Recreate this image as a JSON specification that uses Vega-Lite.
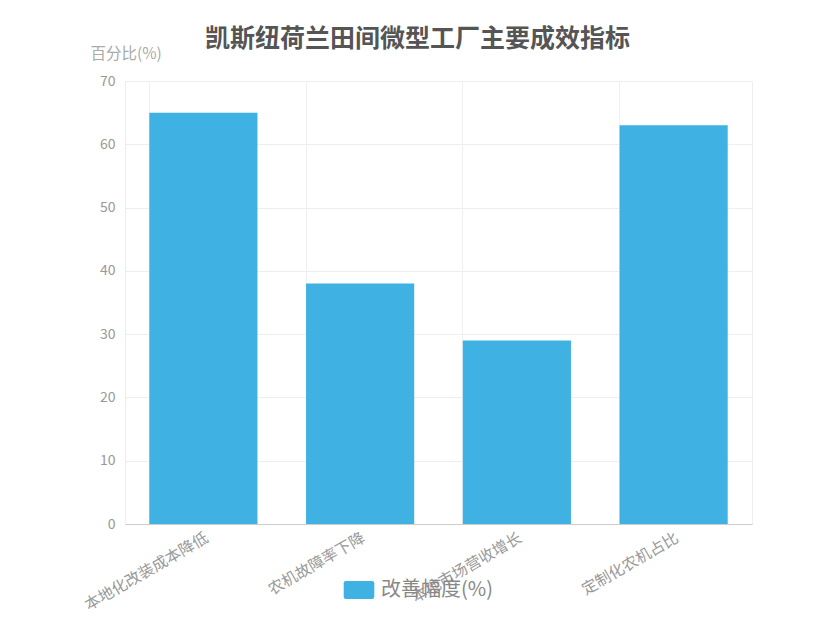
{
  "$schema": "https://vega.github.io/schema/vega-lite/v6.json",
  "autosize": "none",
  "width": 627,
  "height": 443,
  "padding": {"left": 125, "top": 81, "right": 83, "bottom": 101},
  "background": "#ffffff",
  "config": {
    "font": "Noto Sans CJK SC",
    "view": {"stroke": "#eeeeee", "strokeWidth": 1}
  },
  "title": {
    "text": "凯斯纽荷兰田间微型工厂主要成效指标",
    "anchor": "middle",
    "frame": "group",
    "dx": -21,
    "offset": -6,
    "fontSize": 25,
    "fontWeight": "bold",
    "color": "#555555",
    "font": "Noto Sans CJK SC"
  },
  "data": {
    "values": [
      {"指标": "本地化改装成本降低", "改善幅度": 65},
      {"指标": "农机故障率下降", "改善幅度": 38},
      {"指标": "本地市场营收增长", "改善幅度": 29},
      {"指标": "定制化农机占比", "改善幅度": 63}
    ]
  },
  "mark": {"type": "bar"},
  "encoding": {
    "x": {
      "field": "指标",
      "type": "nominal",
      "sort": null,
      "scale": {"paddingInner": 0.31, "paddingOuter": 0.155},
      "axis": {
        "title": null,
        "labelAngle": -30,
        "labelAlign": "right",
        "labelBaseline": "top",
        "labelPadding": 6,
        "labelFontSize": 15.5,
        "labelColor": "#999999",
        "ticks": false,
        "domainColor": "#cccccc",
        "grid": true,
        "gridColor": "#f0f0f0",
        "bandPosition": 0
      }
    },
    "y": {
      "field": "改善幅度",
      "type": "quantitative",
      "scale": {"domain": [0, 70], "nice": false},
      "axis": {
        "values": [0, 10, 20, 30, 40, 50, 60, 70],
        "title": "百分比(%)",
        "titleAngle": 0,
        "titleX": -35,
        "titleY": -28,
        "titleAlign": "left",
        "titleBaseline": "middle",
        "titleFontSize": 15.5,
        "titleFontWeight": "normal",
        "titleColor": "#aaaaaa",
        "labelFontSize": 14,
        "labelColor": "#999999",
        "labelPadding": 10,
        "domain": false,
        "ticks": false,
        "gridColor": "#eeeeee"
      }
    },
    "color": {
      "datum": "改善幅度(%)",
      "scale": {"range": ["#3fb1e3"]},
      "legend": {
        "title": null,
        "orient": "none",
        "legendX": 224,
        "legendY": 499,
        "padding": 0,
        "symbolType": "M-1.7,-0.75 Q-1.7,-1 -1.45,-1 L1.45,-1 Q1.7,-1 1.7,-0.75 L1.7,0.75 Q1.7,1 1.45,1 L-1.45,1 Q-1.7,1 -1.7,0.75 Z",
        "symbolSize": 324,
        "symbolStrokeWidth": 0,
        "symbolOpacity": 1,
        "labelFontSize": 20,
        "labelColor": "#888888",
        "labelOffset": 12
      }
    }
  }
}
